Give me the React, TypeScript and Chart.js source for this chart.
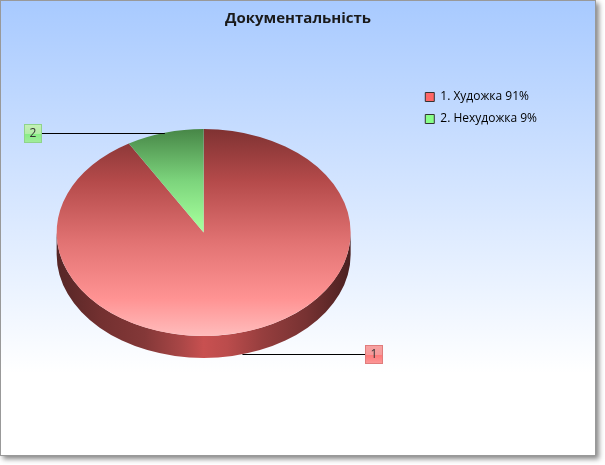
import React, { useEffect, useRef } from 'react';
import { Chart, registerables } from 'chart.js';

Chart.register(...registerables);

const categories = ['1. Художка 91%', '2. Нехудожка 9%'];
const values = [91.5, 8.5];
const pointLabels = ['1', '2'];
const sliceColors = ['#ff6666', '#88ff88'];
const title = 'Документальність';

const RADIUS = 147;
const SQUASH = 103.5 / 147;
const DEPTH = 22;

const sliceGradient = (c: any) => {
  const area = c.chart.chartArea;
  if (!area) return sliceColors[c.dataIndex];
  const cy = (area.top + area.bottom) / 2;
  if (c.dataIndex === 0) {
    const g = c.chart.ctx.createLinearGradient(0, cy - RADIUS, 0, cy + RADIUS);
    g.addColorStop(0, '#7f3232');
    g.addColorStop(0.25, '#b44a4a');
    g.addColorStop(0.55, '#e27373');
    g.addColorStop(0.82, '#ff9393');
    g.addColorStop(1, '#ffbcbc');
    return g;
  }
  const g = c.chart.ctx.createLinearGradient(0, cy - RADIUS, 0, cy);
  g.addColorStop(0, '#478647');
  g.addColorStop(0.5, '#7cd47c');
  g.addColorStop(0.9, '#a0fa98');
  g.addColorStop(1, '#a8ffa0');
  return g;
};

// tilts the flat pie and gives it a wall, then the numbered callouts
const pie3d = {
  id: 'pie3d',
  beforeDatasetsDraw(chart: any) {
    const ctx = chart.ctx;
    const arcs = chart.getDatasetMeta(0).data;
    const { x: cx, y: cy } = arcs[0];
    const ry = RADIUS * SQUASH;

    ctx.save();
    const wall = ctx.createLinearGradient(cx - RADIUS, 0, cx + RADIUS, 0);
    wall.addColorStop(0, '#552626');
    wall.addColorStop(0.15, '#733030');
    wall.addColorStop(0.3, '#843838');
    wall.addColorStop(0.42, '#a84646');
    wall.addColorStop(0.5, '#c85050');
    wall.addColorStop(0.58, '#bb4c4c');
    wall.addColorStop(0.7, '#963e3e');
    wall.addColorStop(0.85, '#773232');
    wall.addColorStop(1, '#4a2020');
    ctx.fillStyle = wall;
    arcs.forEach((arc: any) => {
      const from = Math.max(arc.startAngle, 0);
      const to = Math.min(arc.endAngle, Math.PI);
      if (to <= from) return;
      ctx.beginPath();
      ctx.ellipse(cx, cy + DEPTH, RADIUS, ry, 0, from, to);
      ctx.ellipse(cx, cy, RADIUS, ry, 0, to, from, true);
      ctx.closePath();
      ctx.fill();
    });
    ctx.restore();

    ctx.save();
    ctx.translate(cx, cy);
    ctx.scale(1, SQUASH);
    ctx.translate(-cx, -cy);
  },
  afterDatasetsDraw(chart: any) {
    const ctx = chart.ctx;
    ctx.restore();

    const arcs = chart.getDatasetMeta(0).data;
    arcs.forEach((arc: any, i: number) => {
      const mid = (arc.startAngle + arc.endAngle) / 2;
      const ax = arc.x + RADIUS * Math.cos(mid);
      const front = Math.sin(mid) > 0;
      const ay = Math.round(arc.y + RADIUS * SQUASH * Math.sin(mid) + (front ? DEPTH : 0)) + 0.5;
      const side = Math.cos(mid) > 0 ? 1 : -1;
      const bx = arc.x + side * 170.5;

      ctx.save();
      ctx.strokeStyle = '#000000';
      ctx.lineWidth = 1;
      ctx.beginPath();
      ctx.moveTo(ax, ay);
      ctx.lineTo(bx, ay);
      ctx.stroke();

      const w = 18;
      const h = 19;
      const x = Math.round(bx - w / 2);
      const y = Math.round(ay - h / 2);
      const g = ctx.createLinearGradient(0, y, 0, y + h);
      if (i === 0) {
        g.addColorStop(0, '#f7a3a3');
        g.addColorStop(0.5, '#f59a9a');
        g.addColorStop(0.55, '#ff7a7a');
        g.addColorStop(1, '#fb9a9a');
      } else {
        g.addColorStop(0, '#c6f1b8');
        g.addColorStop(0.5, '#b4eca8');
        g.addColorStop(0.55, '#88ee86');
        g.addColorStop(1, '#a4eb9e');
      }
      ctx.fillStyle = g;
      ctx.fillRect(x, y, w, h);
      ctx.strokeStyle = i === 0 ? '#e07c7c' : '#8fd48b';
      ctx.strokeRect(x + 0.5, y + 0.5, w - 1, h - 1);
      ctx.fillStyle = '#333333';
      ctx.font = '12px "Open Sans"';
      ctx.textAlign = 'center';
      ctx.textBaseline = 'middle';
      ctx.fillText(pointLabels[i], x + w / 2, y + h / 2 + 0.5);
      ctx.restore();
    });
  },
  afterLayout(chart: any) {
    // legend sits high up next to the pie, not centred on it
    chart.legend.left += 8;
    chart.legend.top += 81;
    // title is centred on the whole frame, not on the padded box
    chart.titleBlock.right = 596;
  },
};

export default function App() {
  const chartRef = useRef<HTMLCanvasElement>(null);

  useEffect(() => {
    if (!chartRef.current) return;
    const chart = new Chart(chartRef.current, {
      type: 'pie',
      data: {
        labels: categories,
        datasets: [
          {
            data: values,
            backgroundColor: sliceGradient,
            borderWidth: 0,
            radius: RADIUS,
          },
        ],
      },
      options: {
        responsive: false,
        animation: false,
        events: [],
        layout: { padding: { right: 66, bottom: 31 } },
        plugins: {
          title: {
            display: true,
            text: title,
            color: '#1a1a1a',
            font: { family: '"Open Sans"', size: 15, weight: 'bold' },
            padding: { top: 10, bottom: 3 },
          },
          legend: {
            position: 'right',
            align: 'start',
            labels: {
              color: '#333333',
              font: { family: '"Open Sans"', size: 12 },
              boxWidth: 9,
              boxHeight: 9,
              padding: 10,
              generateLabels: () =>
                categories.map((text, i) => ({
                  text,
                  fillStyle: sliceColors[i],
                  strokeStyle: '#333333',
                  lineWidth: 1,
                  lineJoin: 'miter',
                  index: i,
                })),
            },
          },
          tooltip: { enabled: false },
        },
      },
      plugins: [pie3d],
    });
    return () => chart.destroy();
  }, []);

  return (
    <div style={{ position: 'fixed', left: 0, top: 0, width: 605, height: 465, background: '#ffffff' }}>
      <div
        style={{
          position: 'absolute',
          left: 0,
          top: 0,
          width: 594,
          height: 454,
          border: '1px solid #999999',
          boxShadow: '3px 3px 5px #888888',
          background: 'linear-gradient(#a8caff 0%, #ffffff 82%)',
        }}
      />
      <canvas ref={chartRef} width={605} height={465} style={{ position: 'absolute', left: 0, top: 0 }} />
    </div>
  );
}
